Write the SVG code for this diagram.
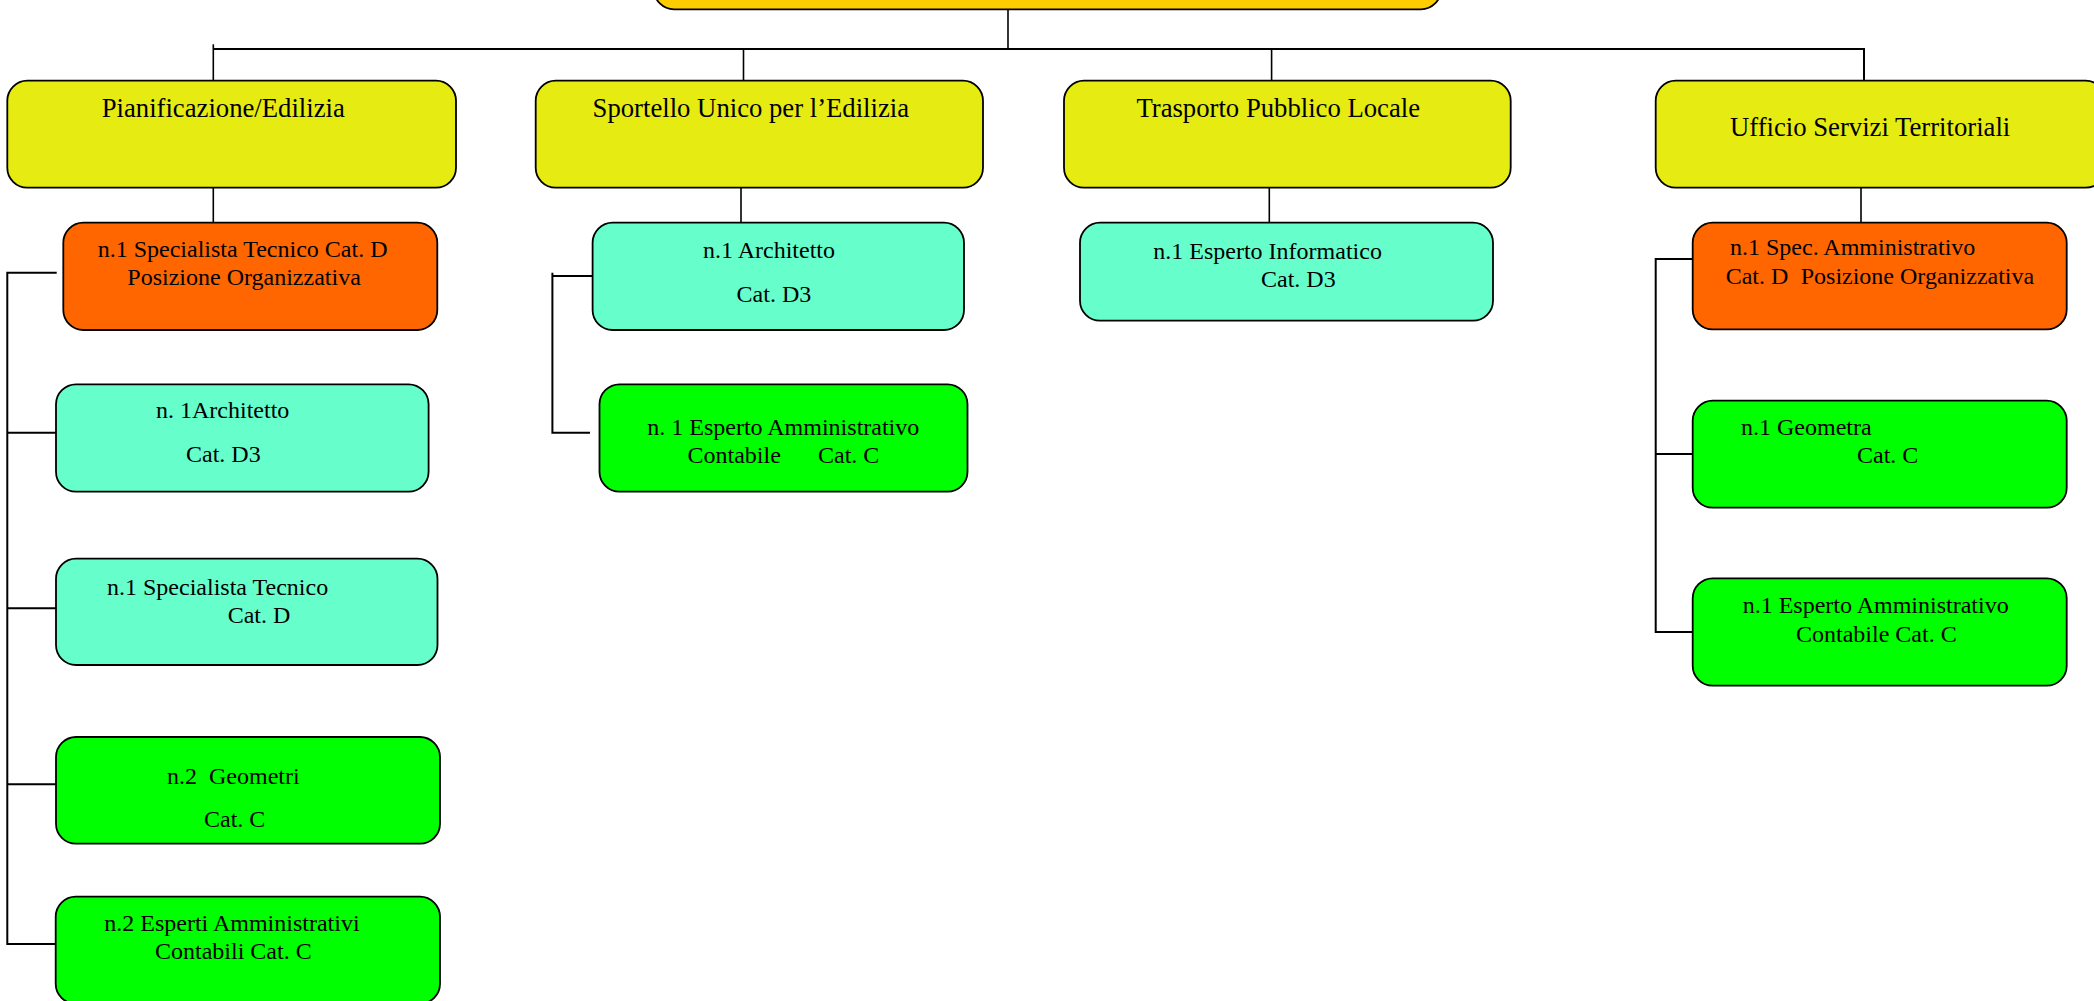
<svg xmlns="http://www.w3.org/2000/svg" width="2094" height="1001" viewBox="0 0 2094 1001">
<style>
.b{stroke:#000;stroke-width:1.8}
.top{fill:#FFCC00}
.y{fill:#E6EB12}
.o{fill:#FF6600}
.c{fill:#66FFCC}
.g{fill:#00FF00}
text{font-family:"Liberation Serif","Times New Roman",serif;fill:#000}
.t1{font-size:26.7px}
.t2{font-size:24px}
.ln{fill:none;stroke:#000;stroke-width:2}
.dr{fill:none;stroke:#000;stroke-width:1.6}
</style>
<rect width="2094" height="1001" fill="#fff"/>
<g id="connectors">
<path class="dr" d="M1008 9.3V49"/>
<path class="dr" d="M213.3 44.3V80.7"/>
<path class="ln" d="M213.3 49H1864V84"/>
<path class="dr" d="M743.5 49V85M1271.6 49V85"/>
<path class="dr" d="M213.3 187.7V222.7M741 187.7V222.7M1269.3 187.7V222.7M1861 187.7V222.7"/>
<path class="ln" d="M56.7 272.7H7.3V944H56M7.3 432.7H56M7.3 608.3H56M7.3 784.3H56"/>
<path class="ln" d="M552.4 272.7V276H592.6M552.4 276V432.7H590"/>
<path class="ln" d="M1692.7 259H1655.7V632H1692.7M1655.7 454H1692.7"/>
</g>
<g id="top"><rect class="b top" x="654" y="-60" width="787" height="69.3" rx="20"/></g>
<g id="pianificazione"><rect class="b y" x="7.3" y="80.7" width="448.7" height="107" rx="20"/><text class="t1" x="101.7" y="117">Pianificazione/Edilizia</text></g>
<g id="sportello"><rect class="b y" x="535.7" y="80.7" width="447.3" height="107" rx="20"/><text class="t1" x="592.6" y="117">Sportello Unico per l’Edilizia</text></g>
<g id="trasporto"><rect class="b y" x="1064" y="80.7" width="446.7" height="107" rx="20"/><text class="t1" x="1136.4" y="117">Trasporto Pubblico Locale</text></g>
<g id="ufficio"><rect class="b y" x="1655.7" y="80.7" width="450" height="107" rx="20"/><text class="t1" x="1730" y="136">Ufficio Servizi Territoriali</text></g>
<g id="pian-po"><rect class="b o" x="63.3" y="222.7" width="374" height="107.3" rx="20"/><text class="t2" x="97.7" y="257">n.1 Specialista Tecnico Cat. D</text><text class="t2" x="127.3" y="285">Posizione Organizzativa</text></g>
<g id="pian-arch"><rect class="b c" x="56" y="384.3" width="372.6" height="107.4" rx="20"/><text class="t2" x="156" y="418">n. 1Architetto</text><text class="t2" x="186" y="462">Cat. D3</text></g>
<g id="pian-spec"><rect class="b c" x="56" y="558.7" width="381.5" height="106.3" rx="20"/><text class="t2" x="107" y="595">n.1 Specialista Tecnico</text><text class="t2" x="227.7" y="623">Cat. D</text></g>
<g id="pian-geom"><rect class="b g" x="56" y="737" width="384" height="106.7" rx="20"/><text class="t2" x="167" y="784" xml:space="preserve">n.2  Geometri</text><text class="t2" x="204" y="827">Cat. C</text></g>
<g id="pian-esp"><rect class="b g" x="55.7" y="896.7" width="384.3" height="107" rx="20"/><text class="t2" x="104.3" y="931">n.2 Esperti Amministrativi</text><text class="t2" x="155" y="959">Contabili Cat. C</text></g>
<g id="sport-arch"><rect class="b c" x="592.6" y="222.7" width="371.4" height="107.3" rx="20"/><text class="t2" x="703" y="258">n.1 Architetto</text><text class="t2" x="736.6" y="302">Cat. D3</text></g>
<g id="sport-esp"><rect class="b g" x="599.5" y="384.3" width="368" height="107.4" rx="20"/><text class="t2" x="647.3" y="435">n. 1 Esperto Amministrativo</text><text class="t2" y="463"><tspan x="687.5">Contabile</tspan><tspan x="818">Cat. C</tspan></text></g>
<g id="trasp-inf"><rect class="b c" x="1080" y="222.7" width="413" height="98" rx="20"/><text class="t2" x="1153.3" y="259">n.1 Esperto Informatico</text><text class="t2" x="1261" y="287">Cat. D3</text></g>
<g id="uff-po"><rect class="b o" x="1692.7" y="222.7" width="374" height="106.7" rx="20"/><text class="t2" x="1730" y="255">n.1 Spec. Amministrativo</text><text class="t2" y="284"><tspan x="1725.7">Cat. D</tspan><tspan x="1800.7">Posizione Organizzativa</tspan></text></g>
<g id="uff-geom"><rect class="b g" x="1692.7" y="400.7" width="374" height="107" rx="20"/><text class="t2" x="1741" y="435">n.1 Geometra</text><text class="t2" x="1857" y="463">Cat. C</text></g>
<g id="uff-esp"><rect class="b g" x="1692.7" y="578.3" width="374" height="107.4" rx="20"/><text class="t2" x="1742.7" y="613">n.1 Esperto Amministrativo</text><text class="t2" x="1796" y="642">Contabile Cat. C</text></g>
</svg>
